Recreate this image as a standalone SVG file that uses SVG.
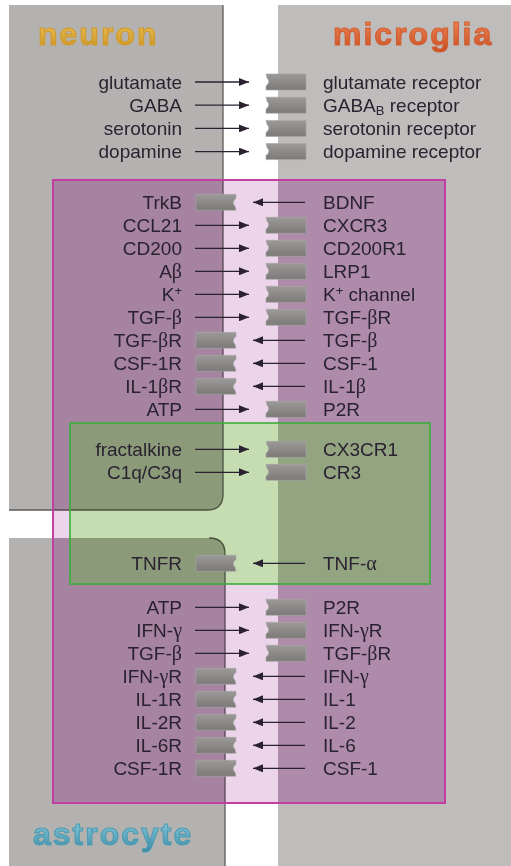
<svg xmlns="http://www.w3.org/2000/svg" width="511" height="866" viewBox="0 0 511 866">
<defs>
<style>
.l{font-family:"Liberation Sans",Arial,sans-serif;font-size:19px;fill:#2a2230;text-anchor:end}
.r{font-family:"Liberation Sans",Arial,sans-serif;font-size:19px;fill:#2a2230;text-anchor:start}
.g{font-family:"Liberation Serif","Times New Roman",serif;font-size:20px}
.ttl{font-family:"Liberation Sans",Arial,sans-serif;font-size:32px;font-weight:bold;letter-spacing:2px;stroke-width:1.1;stroke-linejoin:round}
.ar{stroke:#2a2230;stroke-width:1.3;fill:none;marker-end:url(#ah)}
.rec{fill:url(#recg);stroke:#a8a6a4;stroke-width:0.6}
.panel{fill:#b4b2b0}
</style>
<linearGradient id="recg" x1="0" y1="0" x2="0" y2="1">
<stop offset="0" stop-color="#9c9a98"/><stop offset="1" stop-color="#7c7a78"/>
</linearGradient>
<linearGradient id="gN" x1="0" y1="0" x2="0" y2="1">
<stop offset="0" stop-color="#f2c860"/><stop offset="1" stop-color="#c8901e"/>
</linearGradient>
<linearGradient id="gM" x1="0" y1="0" x2="0" y2="1">
<stop offset="0" stop-color="#f28c5a"/><stop offset="1" stop-color="#c84e24"/>
</linearGradient>
<linearGradient id="gA" x1="0" y1="0" x2="0" y2="1">
<stop offset="0" stop-color="#96d2e4"/><stop offset="1" stop-color="#3a8aa4"/>
</linearGradient>
<marker id="ah" viewBox="0 0 10 8" refX="10" refY="4" markerWidth="10" markerHeight="8" markerUnits="userSpaceOnUse" orient="auto">
<path d="M0,0 L10,4 L0,8 Z" fill="#2a2230"/>
</marker>
<path id="recR" d="M0,-8 H40 V8 H0 V4 Q5,0 1,-4 Z"/>
<path id="recL" d="M0,-8 H40 V-4 Q35,0 39,4 L40,8 H0 Z"/>
<clipPath id="panelclip">
<path d="M9,5 H223 V494 Q223,510 207,510 H9 Z"/>
<rect x="278" y="5" width="233" height="861"/>
<path d="M9,538 H209 Q225,538 225,554 V866 H9 Z"/>
</clipPath>
</defs>

<rect width="511" height="866" fill="#ffffff"/>

<g id="panels">
<path id="neuron-panel" class="panel" d="M9,5 H223 V494 Q223,510 207,510 H9 Z"/>
<rect id="microglia-panel" x="278" y="5" width="233" height="861" fill="#bebdbb"/>
<path id="astrocyte-panel" class="panel" d="M9,538 H209 Q225,538 225,554 V866 H9 Z"/>
<path d="M223,5 V494 Q223,510 207,510 H9" fill="none" stroke="#5e5c5a" stroke-width="1.3"/>
<path d="M209,538 Q225,538 225,554 V866" fill="none" stroke="#5e5c5a" stroke-width="1.3"/>
</g>

<g id="regions">
<path d="M53,180 H445 V803 H53 Z M70,423 V584 H430 V423 Z" fill-rule="evenodd" fill="#ecd4ea" style="mix-blend-mode:multiply"/>
<path d="M53,180 H445 V803 H53 Z M70,423 V584 H430 V423 Z" fill-rule="evenodd" fill="#fde2ff" clip-path="url(#panelclip)" style="mix-blend-mode:multiply"/>
<rect x="70" y="423" width="360" height="161" fill="#c5ddb0" style="mix-blend-mode:multiply"/>
<rect x="53" y="180" width="392" height="623" fill="none" stroke="#c23ea0" stroke-width="2"/>
<rect x="70" y="423" width="360" height="161" fill="none" stroke="#3aae3a" stroke-width="1.6"/>
</g>

<g id="titles">
<text id="neuron" class="ttl" x="38" y="45" fill="url(#gN)" stroke="#d09a2c">neuron</text>
<text id="microglia" class="ttl" x="333" y="45" fill="url(#gM)" stroke="#d45e30">microglia</text>
<text id="astrocyte" class="ttl" x="33" y="845" fill="url(#gA)" stroke="#4c9cb4">astrocyte</text>
</g>

<g id="connectors">
<line class="ar" x1="195" y1="82" x2="249" y2="82"/>
<line class="ar" x1="195" y1="105.2" x2="249" y2="105.2"/>
<line class="ar" x1="195" y1="128.4" x2="249" y2="128.4"/>
<line class="ar" x1="195" y1="151.6" x2="249" y2="151.6"/>
<line class="ar" x1="305" y1="202.3" x2="253" y2="202.3"/>
<line class="ar" x1="195" y1="225.3" x2="249" y2="225.3"/>
<line class="ar" x1="195" y1="248.3" x2="249" y2="248.3"/>
<line class="ar" x1="195" y1="271.3" x2="249" y2="271.3"/>
<line class="ar" x1="195" y1="294.3" x2="249" y2="294.3"/>
<line class="ar" x1="195" y1="317.3" x2="249" y2="317.3"/>
<line class="ar" x1="305" y1="340.3" x2="253" y2="340.3"/>
<line class="ar" x1="305" y1="363.3" x2="253" y2="363.3"/>
<line class="ar" x1="305" y1="386.3" x2="253" y2="386.3"/>
<line class="ar" x1="195" y1="409.3" x2="249" y2="409.3"/>
<line class="ar" x1="195" y1="449.3" x2="249" y2="449.3"/>
<line class="ar" x1="195" y1="472.3" x2="249" y2="472.3"/>
<line class="ar" x1="305" y1="563.3" x2="253" y2="563.3"/>
<line class="ar" x1="195" y1="607.3" x2="249" y2="607.3"/>
<line class="ar" x1="195" y1="630.3" x2="249" y2="630.3"/>
<line class="ar" x1="195" y1="653.3" x2="249" y2="653.3"/>
<line class="ar" x1="305" y1="676.3" x2="253" y2="676.3"/>
<line class="ar" x1="305" y1="699.3" x2="253" y2="699.3"/>
<line class="ar" x1="305" y1="722.3" x2="253" y2="722.3"/>
<line class="ar" x1="305" y1="745.3" x2="253" y2="745.3"/>
<line class="ar" x1="305" y1="768.3" x2="253" y2="768.3"/>
</g>

<g id="neuron-nodes">
<g id="n-glutamate"><text class="l" x="182" y="88.5">glutamate</text></g>
<g id="n-gaba"><text class="l" x="182" y="111.7">GABA</text></g>
<g id="n-serotonin"><text class="l" x="182" y="134.9">serotonin</text></g>
<g id="n-dopamine"><text class="l" x="182" y="158.1">dopamine</text></g>
<g id="n-trkb"><text class="l" x="182" y="209">TrkB</text><use href="#recL" class="rec" x="196" y="202.3"/></g>
<g id="n-ccl21"><text class="l" x="182" y="232">CCL21</text></g>
<g id="n-cd200"><text class="l" x="182" y="255">CD200</text></g>
<g id="n-abeta"><text class="l" x="182" y="278">A<tspan class="g">β</tspan></text></g>
<g id="n-k"><text class="l" x="182" y="301">K<tspan dy="-6" font-size="13">+</tspan></text></g>
<g id="n-tgfb"><text class="l" x="182" y="324">TGF-<tspan class="g">β</tspan></text></g>
<g id="n-tgfbr"><text class="l" x="182" y="347">TGF-<tspan class="g">β</tspan>R</text><use href="#recL" class="rec" x="196" y="340.3"/></g>
<g id="n-csf1r"><text class="l" x="182" y="370">CSF-1R</text><use href="#recL" class="rec" x="196" y="363.3"/></g>
<g id="n-il1br"><text class="l" x="182" y="393">IL-1<tspan class="g">β</tspan>R</text><use href="#recL" class="rec" x="196" y="386.3"/></g>
<g id="n-atp"><text class="l" x="182" y="416">ATP</text></g>
<g id="n-fractalkine"><text class="l" x="182" y="456">fractalkine</text></g>
<g id="n-c1q"><text class="l" x="182" y="479">C1q/C3q</text></g>
</g>

<g id="astrocyte-nodes">
<g id="a-tnfr"><text class="l" x="182" y="570">TNFR</text><use href="#recL" class="rec" x="196" y="563.3"/></g>
<g id="a-atp"><text class="l" x="182" y="614">ATP</text></g>
<g id="a-ifng"><text class="l" x="182" y="637">IFN-<tspan class="g">γ</tspan></text></g>
<g id="a-tgfb"><text class="l" x="182" y="660">TGF-<tspan class="g">β</tspan></text></g>
<g id="a-ifngr"><text class="l" x="182" y="683">IFN-<tspan class="g">γ</tspan>R</text><use href="#recL" class="rec" x="196" y="676.3"/></g>
<g id="a-il1r"><text class="l" x="182" y="706">IL-1R</text><use href="#recL" class="rec" x="196" y="699.3"/></g>
<g id="a-il2r"><text class="l" x="182" y="729">IL-2R</text><use href="#recL" class="rec" x="196" y="722.3"/></g>
<g id="a-il6r"><text class="l" x="182" y="752">IL-6R</text><use href="#recL" class="rec" x="196" y="745.3"/></g>
<g id="a-csf1r"><text class="l" x="182" y="775">CSF-1R</text><use href="#recL" class="rec" x="196" y="768.3"/></g>
</g>

<g id="microglia-nodes">
<g id="m-glur"><use href="#recR" class="rec" x="266" y="82"/><text class="r" x="323" y="88.5">glutamate receptor</text></g>
<g id="m-gabar"><use href="#recR" class="rec" x="266" y="105.2"/><text class="r" x="323" y="111.7">GABA<tspan dy="3" font-size="13">B</tspan><tspan dy="-3"> receptor</tspan></text></g>
<g id="m-5htr"><use href="#recR" class="rec" x="266" y="128.4"/><text class="r" x="323" y="134.9">serotonin receptor</text></g>
<g id="m-dar"><use href="#recR" class="rec" x="266" y="151.6"/><text class="r" x="323" y="158.1">dopamine receptor</text></g>
<g id="m-bdnf"><text class="r" x="323" y="209">BDNF</text></g>
<g id="m-cxcr3"><use href="#recR" class="rec" x="266" y="225.3"/><text class="r" x="323" y="232">CXCR3</text></g>
<g id="m-cd200r1"><use href="#recR" class="rec" x="266" y="248.3"/><text class="r" x="323" y="255">CD200R1</text></g>
<g id="m-lrp1"><use href="#recR" class="rec" x="266" y="271.3"/><text class="r" x="323" y="278">LRP1</text></g>
<g id="m-kch"><use href="#recR" class="rec" x="266" y="294.3"/><text class="r" x="323" y="301">K<tspan dy="-6" font-size="13">+</tspan><tspan dy="6"> channel</tspan></text></g>
<g id="m-tgfbr"><use href="#recR" class="rec" x="266" y="317.3"/><text class="r" x="323" y="324">TGF-<tspan class="g">β</tspan>R</text></g>
<g id="m-tgfb"><text class="r" x="323" y="347">TGF-<tspan class="g">β</tspan></text></g>
<g id="m-csf1"><text class="r" x="323" y="370">CSF-1</text></g>
<g id="m-il1b"><text class="r" x="323" y="393">IL-1<tspan class="g">β</tspan></text></g>
<g id="m-p2r"><use href="#recR" class="rec" x="266" y="409.3"/><text class="r" x="323" y="416">P2R</text></g>
<g id="m-cx3cr1"><use href="#recR" class="rec" x="266" y="449.3"/><text class="r" x="323" y="456">CX3CR1</text></g>
<g id="m-cr3"><use href="#recR" class="rec" x="266" y="472.3"/><text class="r" x="323" y="479">CR3</text></g>
<g id="m-tnfa"><text class="r" x="323" y="570">TNF-<tspan class="g">α</tspan></text></g>
<g id="m-p2r2"><use href="#recR" class="rec" x="266" y="607.3"/><text class="r" x="323" y="614">P2R</text></g>
<g id="m-ifngr"><use href="#recR" class="rec" x="266" y="630.3"/><text class="r" x="323" y="637">IFN-<tspan class="g">γ</tspan>R</text></g>
<g id="m-tgfbr2"><use href="#recR" class="rec" x="266" y="653.3"/><text class="r" x="323" y="660">TGF-<tspan class="g">β</tspan>R</text></g>
<g id="m-ifng"><text class="r" x="323" y="683">IFN-<tspan class="g">γ</tspan></text></g>
<g id="m-il1"><text class="r" x="323" y="706">IL-1</text></g>
<g id="m-il2"><text class="r" x="323" y="729">IL-2</text></g>
<g id="m-il6"><text class="r" x="323" y="752">IL-6</text></g>
<g id="m-csf1b"><text class="r" x="323" y="775">CSF-1</text></g>
</g>
</svg>
